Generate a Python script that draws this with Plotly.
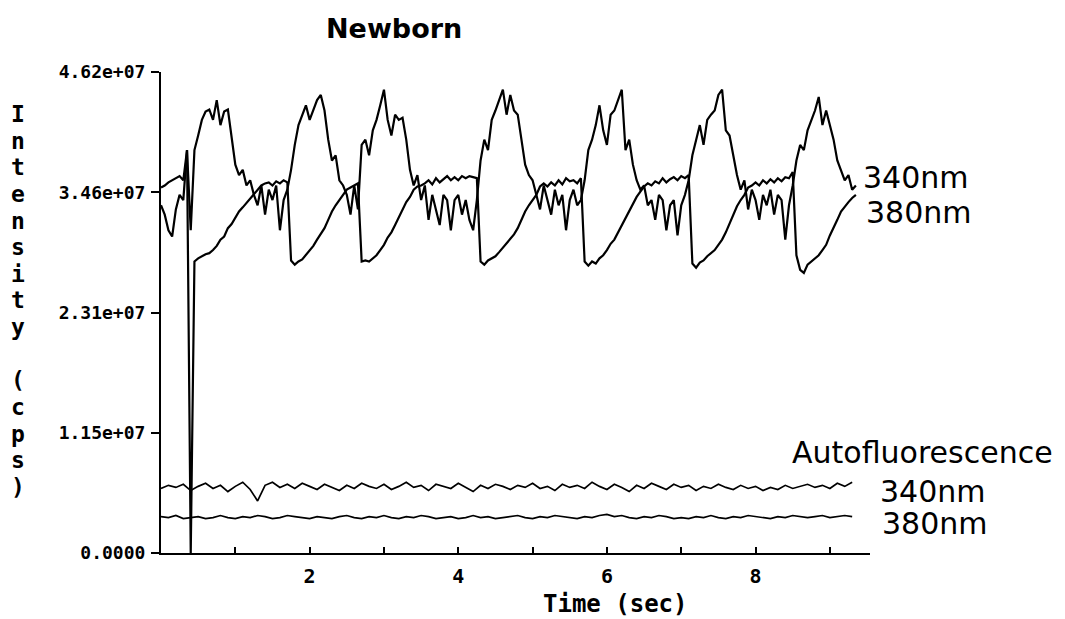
import numpy as np
import plotly.graph_objects as go

# ---------------- data (intensity in units of 1e7 cps) ----------------
SCALE = 1e7

# Newborn, 340 nm excitation, sampled every 0.05 s from 0.00 s
newborn_340 = [
    3.34, 3.25, 3.10, 3.04, 3.30, 3.44, 3.39, 3.87, 3.10, 3.87,
    4.01, 4.16, 4.24, 4.26, 4.16, 4.35, 4.11, 4.24, 4.26, 3.97,
    3.73, 3.63, 3.68, 3.53, 3.58, 3.44, 3.34, 3.53, 3.25, 3.49,
    3.39, 3.53, 3.10, 3.39, 3.49, 3.68, 3.92, 4.11, 4.21, 4.30,
    4.16, 4.26, 4.35, 4.40, 4.25, 3.97, 3.77, 3.82, 3.58, 3.53,
    3.44, 3.25, 3.53, 3.30, 3.92, 3.97, 3.82, 4.06, 4.16, 4.30,
    4.45, 4.16, 4.01, 4.21, 4.16, 4.18, 3.97, 3.68, 3.53, 3.63,
    3.39, 3.53, 3.20, 3.44, 3.30, 3.15, 3.44, 3.39, 3.10, 3.39,
    3.44, 3.25, 3.39, 3.20, 3.10, 3.39, 3.77, 3.97, 3.87, 4.16,
    4.25, 4.35, 4.45, 4.21, 4.40, 4.25, 4.21, 3.97, 3.73, 3.63,
    3.58, 3.44, 3.30, 3.53, 3.39, 3.25, 3.49, 3.34, 3.44, 3.10,
    3.39, 3.49, 3.34, 3.39, 3.58, 3.87, 3.97, 4.11, 4.30, 4.06,
    3.92, 4.21, 4.25, 4.35, 4.45, 3.87, 3.97, 3.73, 3.58, 3.49,
    3.53, 3.34, 3.39, 3.20, 3.44, 3.39, 3.10, 3.34, 3.39, 3.05,
    3.34, 3.44, 3.58, 3.82, 3.97, 4.11, 3.92, 4.16, 4.21, 4.25,
    4.40, 4.45, 4.06, 4.01, 3.82, 3.63, 3.49, 3.58, 3.30, 3.49,
    3.39, 3.20, 3.44, 3.34, 3.49, 3.25, 3.44, 3.39, 3.01, 3.34,
    3.53, 3.77, 3.92, 3.87, 4.06, 4.16, 4.25, 4.38, 4.11, 4.25,
    4.11, 3.97, 3.77, 3.68, 3.58, 3.63, 3.49, 3.53,
]

# Newborn, 380 nm excitation, sampled every 0.05 s from 0.00 s
newborn_380 = [
    3.51, 3.53, 3.56, 3.58, 3.60, 3.62, 3.58, 3.87, 0.00, 2.80,
    2.83, 2.85, 2.87, 2.88, 2.91, 2.95, 3.01, 3.04, 3.12, 3.16,
    3.22, 3.28, 3.32, 3.36, 3.41, 3.45, 3.49, 3.53, 3.55, 3.56,
    3.53, 3.57, 3.55, 3.58, 3.56, 2.81, 2.77, 2.80, 2.82, 2.86,
    2.91, 2.95, 3.01, 3.06, 3.12, 3.20, 3.28, 3.34, 3.39, 3.44,
    3.49, 3.51, 3.53, 3.55, 2.80, 2.81, 2.80, 2.83, 2.86, 2.91,
    2.96, 3.03, 3.08, 3.15, 3.22, 3.29, 3.37, 3.42, 3.49, 3.52,
    3.53, 3.55, 3.58, 3.54, 3.60, 3.56, 3.59, 3.62, 3.58, 3.61,
    3.58, 3.62, 3.60, 3.62, 3.61, 3.60, 2.80, 2.77, 2.81, 2.83,
    2.85, 2.89, 2.93, 2.97, 3.01, 3.06, 3.12, 3.20, 3.28, 3.34,
    3.39, 3.44, 3.52, 3.55, 3.52, 3.56, 3.53, 3.58, 3.54, 3.60,
    3.57, 3.58, 3.55, 3.60, 2.80, 2.76, 2.80, 2.78, 2.83, 2.86,
    2.91, 2.97, 3.01, 3.08, 3.15, 3.22, 3.29, 3.36, 3.42, 3.47,
    3.52, 3.55, 3.53, 3.57, 3.55, 3.60, 3.56, 3.59, 3.61, 3.58,
    3.62, 3.60, 3.63, 2.78, 2.74, 2.79, 2.81, 2.85, 2.88, 2.91,
    2.96, 3.01, 3.08, 3.16, 3.25, 3.33, 3.39, 3.44, 3.51, 3.53,
    3.56, 3.53, 3.58, 3.55, 3.59, 3.56, 3.60, 3.57, 3.61, 3.60,
    3.66, 2.86, 2.72, 2.69, 2.77, 2.80, 2.83, 2.86, 2.91, 2.96,
    3.05, 3.12, 3.20, 3.28, 3.33, 3.37, 3.41, 3.44,
]

# Autofluorescence, sampled every 0.1 s from 0.0 s
auto_340 = [
    0.62, 0.65, 0.63, 0.66, 0.60, 0.64, 0.67, 0.62, 0.65, 0.59,
    0.64, 0.68, 0.61, 0.50, 0.65, 0.68, 0.63, 0.66, 0.62, 0.67,
    0.64, 0.61, 0.66, 0.63, 0.60, 0.65, 0.62, 0.67, 0.64, 0.62,
    0.66, 0.61, 0.64, 0.68, 0.63, 0.65, 0.60, 0.66, 0.64, 0.62,
    0.67, 0.63, 0.59, 0.65, 0.62, 0.66, 0.64, 0.61, 0.65, 0.63,
    0.67, 0.62, 0.64, 0.60, 0.66, 0.63, 0.65, 0.62, 0.68, 0.64,
    0.61, 0.66, 0.63, 0.59, 0.65, 0.62, 0.67, 0.64, 0.61, 0.66,
    0.63, 0.65, 0.60, 0.64, 0.62, 0.66, 0.63, 0.61, 0.65, 0.62,
    0.64, 0.60, 0.63, 0.61, 0.65, 0.62, 0.64, 0.66, 0.63, 0.65,
    0.62, 0.67, 0.64, 0.68,
]
auto_380 = [
    0.35, 0.34, 0.36, 0.33, 0.34, 0.35, 0.33, 0.34, 0.36, 0.34,
    0.33, 0.35, 0.34, 0.36, 0.35, 0.33, 0.34, 0.36, 0.35, 0.34,
    0.33, 0.35, 0.34, 0.33, 0.35, 0.36, 0.34, 0.33, 0.35, 0.34,
    0.36, 0.34, 0.33, 0.35, 0.34, 0.36, 0.35, 0.33, 0.34, 0.35,
    0.33, 0.34, 0.36, 0.34, 0.35, 0.33, 0.34, 0.35, 0.36, 0.34,
    0.33, 0.35, 0.34, 0.36, 0.35, 0.34, 0.33, 0.35, 0.34, 0.36,
    0.37, 0.35, 0.36, 0.34, 0.33, 0.35, 0.34, 0.36, 0.35, 0.33,
    0.34, 0.33, 0.35, 0.34, 0.36, 0.34, 0.33, 0.35, 0.34, 0.36,
    0.35, 0.34, 0.33, 0.35, 0.34, 0.36, 0.35, 0.34, 0.35, 0.36,
    0.34, 0.35, 0.36, 0.35,
]

DT_MAIN = 0.05
DT_AUTO = 0.1

y_tick_vals = [0.0, 1.155e7, 2.31e7, 3.465e7, 4.62e7]
y_tick_text = ["0.0000", "1.15e+07", "2.31e+07", "3.46e+07", "4.62e+07"]
x_tick_vals = [1, 2, 3, 4, 5, 6, 7, 8, 9]
x_tick_text = ["", "2", "", "4", "", "6", "", "8", ""]

title_text = "Newborn"
x_title = "Time (sec)"
y_title = "Intensity (cps)"

# ---------------- figure ----------------
t_main = np.round(np.arange(len(newborn_340)) * DT_MAIN, 3)
t_main380 = np.round(np.arange(len(newborn_380)) * DT_MAIN, 3)
t_auto340 = np.round(np.arange(len(auto_340)) * DT_AUTO, 3)
t_auto380 = np.round(np.arange(len(auto_380)) * DT_AUTO, 3)

fig = go.Figure()
line_main = dict(color="black", width=2.2)
line_auto = dict(color="black", width=1.7)
fig.add_trace(go.Scatter(x=t_main, y=np.array(newborn_340) * SCALE, mode="lines",
                         line=line_main, name="Newborn 340nm"))
fig.add_trace(go.Scatter(x=t_main380, y=np.array(newborn_380) * SCALE, mode="lines",
                         line=line_main, name="Newborn 380nm"))
fig.add_trace(go.Scatter(x=t_auto340, y=np.array(auto_340) * SCALE, mode="lines",
                         line=line_auto, name="Autofluorescence 340nm"))
fig.add_trace(go.Scatter(x=t_auto380, y=np.array(auto_380) * SCALE, mode="lines",
                         line=line_auto, name="Autofluorescence 380nm"))

MONO = "DejaVu Sans Mono"
SANS = "DejaVu Sans"

W, H = 1065, 619
L, R, T, B = 161, 195, 72, 66
PW, PH = W - L - R, H - T - B


def px(xp):
    return (xp - L) / PW


def py(yp):
    return (H - B - yp) / PH


fig.update_layout(
    width=W, height=H,
    margin=dict(l=L, r=R, t=T, b=B),
    plot_bgcolor="white", paper_bgcolor="white",
    showlegend=False,
    xaxis=dict(
        range=[0, 9.54], showline=True, linecolor="black", linewidth=2,
        showgrid=False, zeroline=False,
        tickmode="array", tickvals=x_tick_vals, ticktext=x_tick_text,
        ticks="inside", ticklen=6, tickwidth=2, tickcolor="black",
        ticklabelstandoff=4,
        tickfont=dict(family=MONO, size=20, color="black", weight="bold"),
    ),
    yaxis=dict(
        range=[0, 4.62e7], showline=True, linecolor="black", linewidth=2,
        showgrid=False, zeroline=False,
        tickmode="array", tickvals=y_tick_vals, ticktext=y_tick_text,
        ticks="outside", ticklen=8, tickwidth=2, tickcolor="black",
        ticklabelstandoff=2,
        tickfont=dict(family=MONO, size=18, color="black", weight="bold"),
    ),
)

ann = []
ann.append(dict(text=title_text, x=px(394), y=py(28), xanchor="center", yanchor="middle",
                font=dict(family=SANS, size=27, color="black", weight="bold")))
ann.append(dict(text=x_title, x=px(615), y=py(604), xanchor="center", yanchor="middle",
                font=dict(family=MONO, size=24, color="black", weight="bold")))
for i, ch in enumerate(y_title):
    if ch == " ":
        continue
    ann.append(dict(text=ch, x=px(18), y=py(114 + i * 26.64), xanchor="center", yanchor="middle",
                    font=dict(family=MONO, size=23, color="black", weight="bold")))

label_font = dict(family=SANS, size=30, color="black")
right_labels = [
    ("340nm", 861, 177),
    ("380nm", 864, 212),
    ("Autofluorescence", 790, 452),
    ("340nm", 878, 491),
    ("380nm", 880, 523),
]
for txt, xp, yp in right_labels:
    ann.append(dict(text=txt, x=px(xp), y=py(yp), xanchor="left", yanchor="middle", font=label_font))

for a in ann:
    a.update(xref="paper", yref="paper", showarrow=False)
fig.update_layout(annotations=ann)

fig.write_html("out.html")
